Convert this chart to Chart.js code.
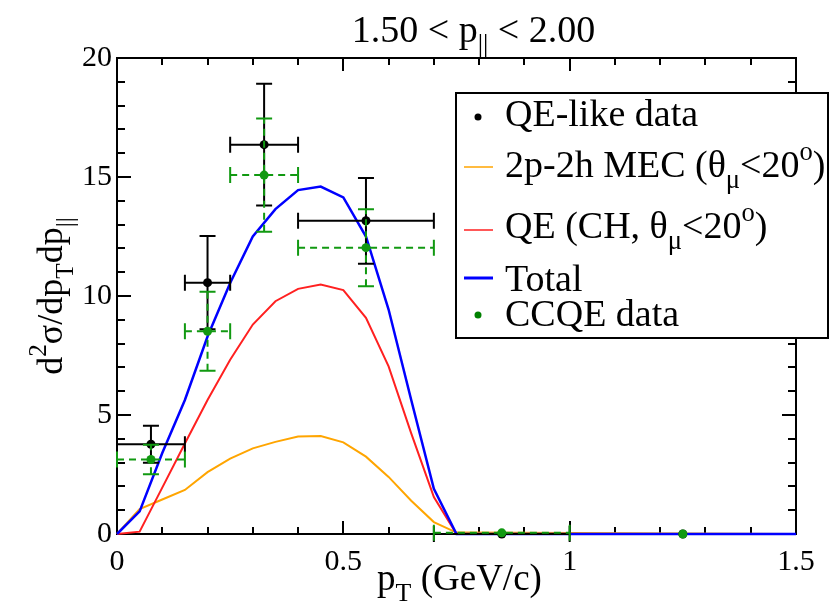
<!DOCTYPE html>
<html>
<head>
<meta charset="utf-8">
<script src="https://cdn.jsdelivr.net/npm/chart.js@4.4.0/dist/chart.umd.min.js"></script>
<style>
  html, body { margin: 0; padding: 0; background: #fff; }
</style>
</head>
<body>
<canvas id="grafico" width="831" height="610"></canvas>
<script>
// Curvas teóricas (pT em GeV/c)
const ptCurva = [0, 0.05, 0.1, 0.15, 0.2, 0.25, 0.3, 0.35, 0.4, 0.45, 0.5, 0.55, 0.6, 0.65, 0.7, 0.75, 1.5];
const mec = [0, 1.05, 1.45, 1.85, 2.6, 3.17, 3.6, 3.87, 4.1, 4.12, 3.85, 3.25, 2.4, 1.4, 0.5, 0.06, 0];
const qe = [0, 0.1, 1.95, 3.8, 5.63, 7.32, 8.8, 9.78, 10.3, 10.48, 10.25, 9.08, 7.04, 4.23, 1.55, 0, 0];
const total = [0, 0.95, 3.4, 5.63, 8.3, 10.55, 12.5, 13.65, 14.45, 14.6, 14.14, 12.5, 9.43, 5.63, 1.9, 0, 0];

// Dados experimentais
const ptDados = [0.075, 0.2, 0.325, 0.55, 0.85, 1.25];
const binMin = [0, 0.15, 0.25, 0.4, 0.7, 1.25];
const binMax = [0.15, 0.25, 0.4, 0.7, 1.0, 1.25];
const qeLike = [3.77, 10.56, 16.36, 13.16, 0, 0];
const qeLikeErro = [0.78, 1.96, 2.56, 1.8, 0, 0];
const ccqe = [3.13, 8.52, 15.08, 12.03, 0.05, 0];
const ccqeErro = [0.62, 1.66, 2.38, 1.62, 0, 0];

// Rótulos dos eixos
const rotulosX = ['0', '0.5', '1', '1.5'];
const rotulosY = ['0', '5', '10', '15', '20'];

const SERIF = '"Liberation Serif", "DejaVu Serif", serif';

function pontos(xs, ys) {
  return xs.map((x, i) => ({ x: x, y: ys[i] }));
}

// Texto com índices e expoentes: partes = [[texto, 'sub'|'sup'|'']]
function larguraRica(ctx, partes, tam) {
  let w = 0;
  partes.forEach(([t, tipo]) => {
    ctx.font = (tipo ? tam * 0.7 : tam) + 'px ' + SERIF;
    w += ctx.measureText(t).width;
  });
  return w;
}

function textoRico(ctx, partes, x, y, tam, alinhar) {
  let cx = x;
  if (alinhar === 'center') cx = x - larguraRica(ctx, partes, tam) / 2;
  ctx.textAlign = 'left';
  ctx.textBaseline = 'alphabetic';
  partes.forEach(([t, tipo]) => {
    let dy = 0;
    if (tipo === 'sub') dy = tam * 0.3;
    if (tipo === 'sup') dy = -tam * 0.45;
    ctx.font = (tipo ? tam * 0.7 : tam) + 'px ' + SERIF;
    ctx.fillText(t, cx, y + dy);
    cx += ctx.measureText(t).width;
  });
}

// Moldura e marcas internas
const moldura = {
  id: 'moldura',
  beforeDatasetsDraw(chart) {
    const { ctx, chartArea: a, scales: { x, y } } = chart;
    ctx.save();
    ctx.strokeStyle = '#000';
    ctx.lineWidth = 2;
    ctx.strokeRect(a.left, a.top, a.right - a.left, a.bottom - a.top);
    ctx.beginPath();
    x.ticks.forEach((t) => {
      const px = Math.round(x.getPixelForValue(t.value));
      const len = Math.round(t.value * 10) % 5 === 0 ? 13 : 7;
      ctx.moveTo(px, a.bottom); ctx.lineTo(px, a.bottom - len);
      ctx.moveTo(px, a.top); ctx.lineTo(px, a.top + len);
    });
    y.ticks.forEach((t) => {
      const py = Math.round(y.getPixelForValue(t.value));
      const len = Math.round(t.value) % 5 === 0 ? 14 : 8;
      ctx.moveTo(a.left, py); ctx.lineTo(a.left + len, py);
      ctx.moveTo(a.right, py); ctx.lineTo(a.right - len, py);
    });
    ctx.stroke();
    ctx.restore();
  },
};

// Barras de erro desenhadas antes dos pontos de cada série
const barrasErro = {
  id: 'barrasErro',
  beforeDatasetDraw(chart, args) {
    const ds = chart.data.datasets[args.index];
    if (!ds.erroY) return;
    const { ctx, scales: { x, y } } = chart;
    const c = 8;
    ctx.save();
    ctx.strokeStyle = ds.borderColor;
    ctx.lineWidth = 2;
    ds.data.forEach((p, i) => {
      const px = x.getPixelForValue(p.x);
      const py = y.getPixelForValue(p.y);
      const x0 = x.getPixelForValue(ds.xMin[i]);
      const x1 = x.getPixelForValue(ds.xMax[i]);
      const y0 = y.getPixelForValue(p.y - ds.erroY[i]);
      const y1 = y.getPixelForValue(p.y + ds.erroY[i]);
      ctx.setLineDash(ds.tracejado || []);
      ctx.beginPath();
      if (x1 - x0 > 1) { ctx.moveTo(x0, py); ctx.lineTo(x1, py); }
      if (y0 - y1 > 1) { ctx.moveTo(px, y0); ctx.lineTo(px, y1); }
      ctx.stroke();
      ctx.setLineDash([]);
      ctx.beginPath();
      if (x1 - x0 > 1) {
        ctx.moveTo(x0, py - c); ctx.lineTo(x0, py + c);
        ctx.moveTo(x1, py - c); ctx.lineTo(x1, py + c);
      }
      if (y0 - y1 > 1) {
        ctx.moveTo(px - c, y0); ctx.lineTo(px + c, y0);
        ctx.moveTo(px - c, y1); ctx.lineTo(px + c, y1);
      }
      ctx.stroke();
    });
    ctx.restore();
  },
};

// Títulos e legenda com índices
const textos = {
  id: 'textos',
  afterDraw(chart) {
    const { ctx, chartArea: a } = chart;
    ctx.save();
    ctx.fillStyle = '#000';
    const meio = (a.left + a.right) / 2;
    textoRico(ctx, [['1.50 < p', ''], ['||', 'sub'], [' < 2.00', '']], meio + 17, 42, 38, 'center');
    textoRico(ctx, [['p', ''], ['T', 'sub'], [' (GeV/c)', '']], meio + 3, 590, 37, 'center');
    ctx.save();
    ctx.translate(62, (a.top + a.bottom) / 2);
    ctx.rotate(-Math.PI / 2);
    textoRico(ctx, [['d', ''], ['2', 'sup'], ['σ/dp', ''], ['T', 'sub'], ['dp', ''], ['||', 'sub']], 0, 0, 36, 'center');
    ctx.restore();

    // legenda
    ctx.fillStyle = '#fff';
    ctx.fillRect(456, 93, 372, 245);
    ctx.strokeStyle = '#000';
    ctx.lineWidth = 2;
    ctx.strokeRect(456, 93, 372, 245);
    const tx = 505;
    const tam = 38;
    ctx.fillStyle = '#000';
    ctx.beginPath(); ctx.arc(478, 117, 3.5, 0, Math.PI * 2); ctx.fill();
    textoRico(ctx, [['QE-like data', '']], tx, 126, tam);
    ctx.lineWidth = 1.5;
    ctx.strokeStyle = '#ffa500';
    ctx.beginPath(); ctx.moveTo(464, 167); ctx.lineTo(493, 167); ctx.stroke();
    textoRico(ctx, [['2p-2h MEC (θ', ''], ['μ', 'sub'], ['<20', ''], ['o', 'sup'], [')', '']], tx, 177, tam);
    ctx.strokeStyle = '#ff2020';
    ctx.beginPath(); ctx.moveTo(464, 230); ctx.lineTo(493, 230); ctx.stroke();
    textoRico(ctx, [['QE (CH, θ', ''], ['μ', 'sub'], ['<20', ''], ['o', 'sup'], [')', '']], tx, 238, tam);
    ctx.lineWidth = 3;
    ctx.strokeStyle = '#0000ff';
    ctx.beginPath(); ctx.moveTo(464, 278); ctx.lineTo(493, 278); ctx.stroke();
    textoRico(ctx, [['Total', '']], tx, 291, tam);
    ctx.fillStyle = '#008000';
    ctx.beginPath(); ctx.arc(478, 315, 3.5, 0, Math.PI * 2); ctx.fill();
    ctx.fillStyle = '#000';
    textoRico(ctx, [['CCQE data', '']], tx, 326, tam);
    ctx.restore();
  },
};

function criarGrafico() {
  const ctx = document.getElementById('grafico').getContext('2d');
  new Chart(ctx, {
    type: 'scatter',
    data: {
      datasets: [
        {
          label: '2p-2h MEC',
          data: pontos(ptCurva, mec),
          showLine: true, borderColor: '#ffa500', borderWidth: 2,
          pointRadius: 0, order: 6, clip: false,
        },
        {
          label: 'QE',
          data: pontos(ptCurva, qe),
          showLine: true, borderColor: '#ff2020', borderWidth: 2,
          pointRadius: 0, order: 5, clip: false,
        },
        {
          label: 'Total',
          data: pontos(ptCurva, total),
          showLine: true, borderColor: '#0000ff', borderWidth: 2.5,
          pointRadius: 0, order: 4, clip: false,
        },
        {
          label: 'QE-like data',
          data: pontos(ptDados, qeLike),
          xMin: binMin, xMax: binMax, erroY: qeLikeErro,
          borderColor: '#000', backgroundColor: '#000',
          pointRadius: 4.5, borderWidth: 0, order: 2, clip: false,
        },
        {
          label: 'CCQE data',
          data: pontos(ptDados, ccqe),
          xMin: binMin, xMax: binMax, erroY: ccqeErro, tracejado: [7, 5],
          borderColor: '#119911', backgroundColor: '#119911',
          pointRadius: 4.5, borderWidth: 0, order: 1, clip: false,
        },
      ],
    },
    options: {
      responsive: false,
      animation: false,
      layout: { padding: { top: 58, right: 35, left: 0, bottom: 0 } },
      plugins: { legend: { display: false }, tooltip: { enabled: false } },
      scales: {
        x: {
          type: 'linear', min: 0, max: 1.5,
          grid: { display: false, drawTicks: false },
          border: { display: false },
          afterFit: (s) => { s.height = 76; },
          ticks: {
            stepSize: 0.1, autoSkip: false, maxRotation: 0, padding: 10,
            color: '#000', font: { family: SERIF, size: 30 },
            callback: (v) => {
              const d = Math.round(v * 10);
              return d % 5 === 0 ? rotulosX[d / 5] : '';
            },
          },
        },
        y: {
          type: 'linear', min: 0, max: 20,
          grid: { display: false, drawTicks: false },
          border: { display: false },
          afterFit: (s) => { s.width = 117; },
          ticks: {
            stepSize: 1, autoSkip: false, padding: 5,
            color: '#000', font: { family: SERIF, size: 30 },
            callback: (v) => {
              const d = Math.round(v);
              return d % 5 === 0 ? rotulosY[d / 5] : '';
            },
          },
        },
      },
    },
    plugins: [moldura, barrasErro, textos],
  });
}

document.addEventListener('DOMContentLoaded', () => {
  criarGrafico();
});
</script>
</body>
</html>
